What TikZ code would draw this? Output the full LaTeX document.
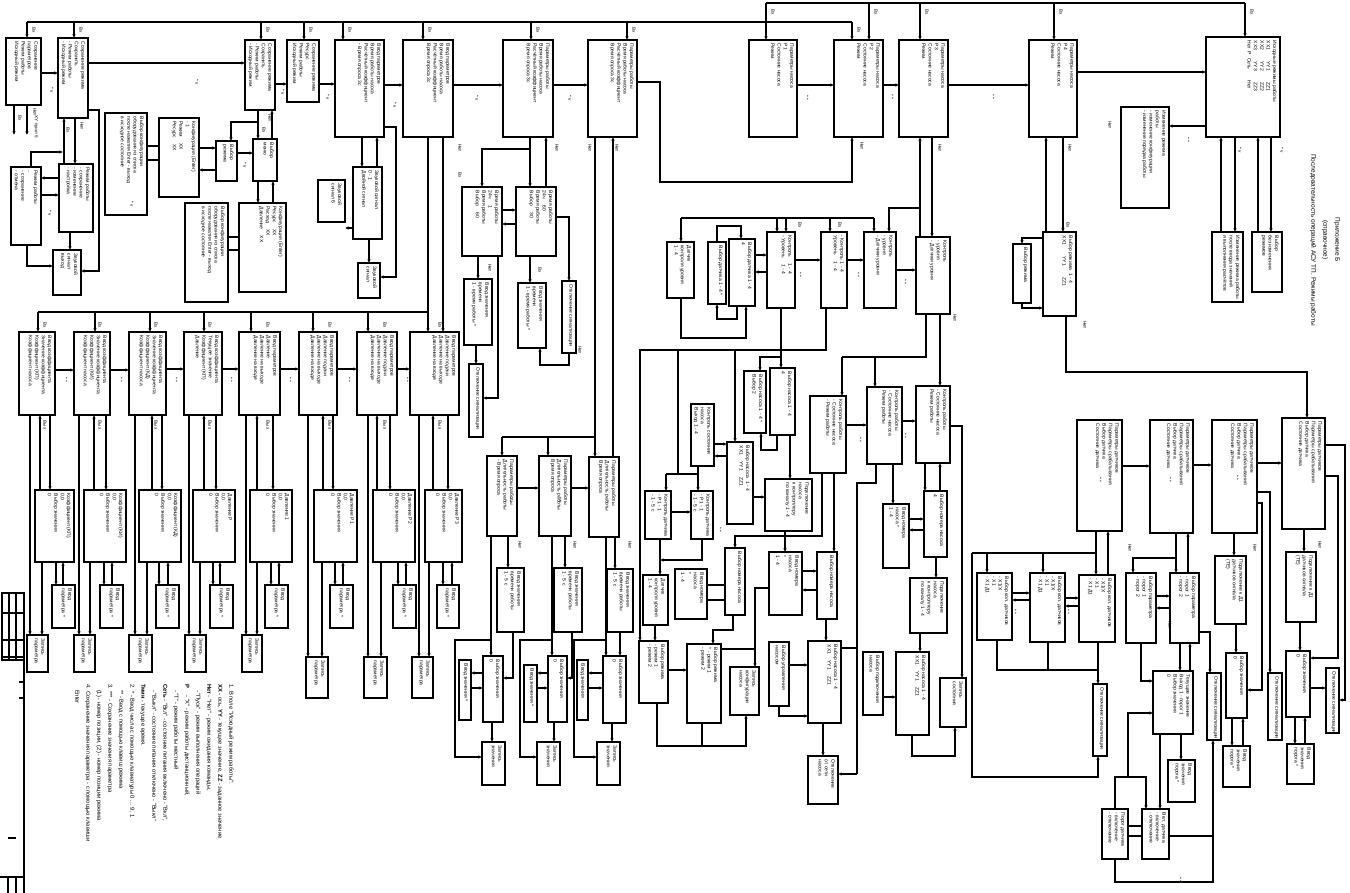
\documentclass[tikz,border=0pt]{standalone}
\usepackage{fontspec}
\setmainfont{Liberation Sans}
\usetikzlibrary{arrows.meta}
\newcounter{lc}
\newcommand\bx[6]{%
  \pgfmathsetmacro\bxcx{(#2+#4)/2}%
  \pgfmathsetmacro\bxcy{(#3+#5)/2}%
  \pgfmathsetmacro\bxw{#4-#2}%
  \pgfmathsetmacro\bxh{#5-#3}%
  \node[box,minimum width=\bxw pt,minimum height=\bxh pt] (#1) at (\bxcx,\bxcy) {};
  \node[btxt] (#1t) at ([xshift=-3pt,yshift=-3.5pt]#1.north east) {#6};
}
\newcommand\cH[3]{\draw[ar] (#1.east |- 0,#3) -- (#2.west |- 0,#3);}
\newcommand\cV[3]{\draw[ar] (#1.south -| #3,0) -- (#2.north -| #3,0);}
\newcommand\cU[3]{\draw[ar] (#2.north -| #3,0) -- (#1.south -| #3,0);}
\newcommand\lb[3]{\stepcounter{lc}\node[lbl] (lab\arabic{lc}) at (#1,#2) {#3};}
\newcommand\colset[8]{%
  \draw[ar] (H#1.south -| #2,0) -- (K#1.north -| #2,0);
  \draw[ar] (I#1.north -| #3,0) -- (H#1.south -| #3,0);
  \draw[ar] (H#1.south -| #4,0) -- (I#1.north -| #4,0);
  \draw[ar] (I#1.south -| #5,0) -- (J#1.north -| #5,0);
  \draw[ar] (J#1.north -| #6,0) -- (I#1.south -| #6,0);
  \draw[ar] (I#1.south -| #7,0) -- (K#1.north -| #7,0);
  \lb{#8}{325}{Вх}\lb{#8}{425}{Вых}
}
\begin{document}
\begin{tikzpicture}[x=1pt,y=-1pt,
  box/.style={draw,line width=1.7pt,inner sep=0pt,outer sep=0pt},
  btxt/.style={rotate=-90,anchor=north west,inner sep=0pt,align=left,font=\fontsize{5}{6.4}\selectfont},
  cn/.style={line width=1.5pt},
  ar/.style={cn,-{Latex[length=3.6pt,width=3.4pt]}},
  lbl/.style={rotate=-90,inner sep=0pt,font=\fontsize{4.6}{5}\selectfont}]
\useasboundingbox (0,0) rectangle (1350,893);
\fill[white] (0,0) rectangle (1350,893);

% ---------------- top-left block
\bx{B1}{6}{38}{41}{105}{Сохранение\\параметров\\Режим работы\\Исходный режим}
\bx{B2}{58}{38}{88}{118}{Сохранение режима\\Сохранить\\- Режим работы\\- Исходный режим}
\bx{B3}{59}{164}{93}{232}{Режим работы\\- сохранение\\- изменение\\- настройка}
\bx{B4}{11}{167}{41}{245}{Режим работы\\- \\- сохранение\\- отмена}
\bx{B5}{53}{250}{81}{295}{Звуковой\\сигнал\\выход}
\bx{B6}{105}{113}{147}{215}{Выбор конфигурации\\оборудования из списка\\после нажатия Enter - выход\\в исходное состояние}
\bx{B7}{159}{118}{199}{197}{Конфигурация (Enter)\\- 1\\Режим \quad XX\\Ресурс \quad XX}
\bx{B8}{216}{141}{237}{181}{Выбор\\режима}
\bx{B9}{253}{139}{277}{181}{Выбор\\меню}
\bx{B10}{245}{40}{275}{110}{Сохранение режима\\Сохранить\\- Режим работы\\- Исходный режим}
\bx{B11}{287}{40}{319}{102}{Сохранение режима\\Ресурс\\Режим работы\\Исходный режим}
\bx{B12}{185}{203}{228}{302}{Выбор конфигурации\\оборудования из списка\\после нажатия Enter - выход\\в исходное состояние}
\bx{B13}{239}{203}{286}{292}{Конфигурация (Enter)\\Ресурс \quad XX\\Расход \quad XX\\Давление \quad XX}
\bx{B14}{318}{180}{345}{222}{Звуковой\\сигнал 6}

\bx{C1}{335}{40}{384}{137}{Ввод параметров\\Время работы насоса\\Расчётный коэффициент\\- Время опроса 3с}
\bx{C2}{403}{40}{453}{137}{Ввод параметров\\Время работы насоса\\Расчётный коэффициент\\Время опроса 3с}
\bx{C3}{503}{40}{553}{137}{Параметры работы\\Время работы насоса\\Расчётный коэффициент\\Время опроса 3с}
\bx{C4}{588}{40}{637}{137}{Параметры работы\\Время работы насоса\\Расчётный коэффициент\\Время опроса 3с}
\bx{C5}{353}{167}{382}{239}{Звуковой сигнал\\0 - 1\\Двойной сигнал}
\bx{C6}{358}{263}{380}{298}{Звуковой\\сигнал}
\bx{C7}{462}{187}{502}{256}{Время работы\\24ч \quad 1\\Время работы\\Выбор \quad 60}
\bx{C8}{516}{187}{556}{256}{Время работы\\24ч \quad 60\\Время работы\\Выбор \quad 30}
\bx{C9}{464}{279}{492}{345}{Ввод значения\\времени\\1 - время работы *}
\bx{C10}{518}{283}{546}{348}{Ввод значения\\времени\\1 - время работы *}
\bx{C11}{562}{281}{576}{353}{Отключение сигнализации}
\bx{C12}{469}{364}{483}{437}{Отключение сигнализации}

% ---------------- top-right block
\bx{E1}{749}{40}{797}{137}{Параметры насоса\\Р1\\Состояние насоса\\Режим}
\bx{E2}{834}{40}{883}{137}{Параметры насоса\\Р2\\Состояние насоса\\Режим}
\bx{E3}{899}{40}{948}{137}{Параметры насоса\\Р3\\Состояние насоса\\Режим}
\bx{E4}{1029}{40}{1077}{137}{Параметры насоса\\Р4\\Состояние насоса\\Режим}
\bx{F1}{667}{242}{694}{298}{Датчик\\контроля уровня\\1 - 4}
\bx{F2}{708}{242}{726}{304}{Выбор датчика 1 - 4 *}
\bx{F3}{729}{239}{755}{306}{Выбор датчика 1 - 4\\4}
\bx{F4}{767}{232}{795}{308}{Контроль \quad 1 - 4\\- Уровень \quad 1 - 4}
\bx{F5}{821}{232}{847}{308}{- Контроль 1 - 4\\Уровень \quad 1 - 4}
\bx{F6}{864}{232}{896}{308}{Контроль\\- уровня\\- Датчики уровня}
\bx{F7}{916}{237}{950}{314}{Контроль\\- уровня\\- Датчики уровня}
\bx{F8}{1013}{244}{1031}{303}{Выбор режима}
\bx{F9}{1043}{232}{1076}{316}{Выбор режима \ 1 - 4\\XX1 \qquad YY1 \qquad ZZ1}
\bx{G1}{1206}{37}{1280}{137}{Исходные режимы работы\\XX1 \qquad YY1 \qquad ZZ1\\XX2 \qquad YY2 \qquad ZZ2\\XX3 \qquad YY3 \qquad ZZ3\\Нет \ Р \ Сеть \qquad Нет}
\bx{G2}{1121}{107}{1169}{208}{Изменение режима\\работы\\- изменение конфигурации\\- изменение порядка работы}
\bx{G3}{1212}{232}{1243}{302}{Изменение режима работы\\после ввода значений\\и выполнения расчётов}
\bx{G4}{1252}{232}{1282}{292}{Выбор\\без изменения\\режимов}

% ---------------- lower-left rows
\bx{H1}{19}{332}{55}{415}{Ввод коэффициента\\Значение коэффициента\\Коэффициент (КП)\\Коэффициент насоса}
\bx{H2}{74}{332}{110}{415}{Ввод коэффициента\\Значение коэффициента\\Коэффициент (КИ)\\Коэффициент насоса}
\bx{H3}{129}{332}{166}{415}{Ввод коэффициента\\Значение коэффициента\\Коэффициент (КД)\\Коэффициент насоса}
\bx{H4}{184}{332}{222}{415}{Ввод коэффициента\\Текущее значение\\Коэффициент (КП)\\Давление}
\bx{H5}{239}{332}{280}{415}{Ввод параметров\\Давление\\Давление на выходе\\Давление на входе}
\bx{H6}{299}{332}{337}{415}{Ввод параметров\\Давление подачи\\Давление на выходе\\Давление на входе}
\bx{H7}{357}{332}{397}{415}{Ввод параметров\\Давление подачи\\Давление на выходе\\Давление на входе}
\bx{H8}{410}{332}{459}{415}{Ввод параметров\\Давление подачи\\Давление на выходе\\Давление на входе}
\bx{I1}{35}{490}{74}{562}{Коэффициент (КП)\\0,0\\Выбор значения\\0}
\bx{I2}{84}{490}{126}{562}{Коэффициент (КИ)\\0,0\\Выбор значения\\0}
\bx{I3}{139}{490}{181}{562}{Коэффициент (КД)\\0,0\\Выбор значения\\0}
\bx{I4}{193}{490}{235}{562}{Давление Р\\0,0\\Выбор значения\\0}
\bx{I5}{250}{490}{292}{562}{Давление 1\\0,0\\Выбор значения\\0}
\bx{I6}{314}{490}{357}{562}{Давление Р1\\0,0\\Выбор значения\\0}
\bx{I7}{373}{490}{415}{562}{Давление Р2\\0,0\\Выбор значения\\0}
\bx{I8}{425}{490}{462}{562}{Давление Р3\\0,0\\Выбор значения\\0}
\bx{J1}{52}{585}{75}{628}{Ввод\\параметра *}
\bx{J2}{100}{585}{123}{628}{Ввод\\параметра *}
\bx{J3}{156}{585}{179}{628}{Ввод\\параметра *}
\bx{J4}{210}{585}{233}{628}{Ввод\\параметра *}
\bx{J5}{265}{585}{288}{628}{Ввод\\параметра *}
\bx{J6}{330}{585}{353}{628}{Ввод\\параметра *}
\bx{J7}{393}{585}{416}{628}{Ввод\\параметра *}
\bx{J8}{437}{585}{459}{628}{Ввод\\параметра *}
\bx{K1}{27}{635}{48}{672}{Запись\\параметра}
\bx{K2}{74}{635}{95}{672}{Запись\\параметра}
\bx{K3}{129}{635}{152}{672}{Запись\\параметра}
\bx{K4}{185}{635}{206}{672}{Запись\\параметра}
\bx{K5}{242}{635}{262}{672}{Запись\\параметра}
\bx{K6}{306}{657}{328}{698}{Запись\\параметра}
\bx{K7}{364}{657}{387}{698}{Запись\\параметра}
\bx{K8}{412}{657}{433}{698}{Запись\\параметра}

% ---------------- middle lower
\bx{M1}{487}{456}{517}{536}{Параметры работы\\Длительность работы\\- Время опроса}
\bx{M2}{539}{456}{571}{536}{Параметры работы\\Длительность работы\\Время опроса}
\bx{M3}{589}{457}{619}{537}{Параметры работы\\Длительность работы\\Время опроса}
\bx{N1}{497}{568}{524}{632}{Ввод значения\\времени работы\\1 - 5 с}
\bx{N2}{554}{568}{582}{632}{Ввод значения\\времени работы\\1 - 5 с}
\bx{N3}{607}{569}{633}{632}{Ввод значения\\времени работы\\1 - 5 с}
\bx{O1}{459}{660}{471}{720}{Ввод значения *}
\bx{O2}{483}{656}{503}{722}{Выбор значения\\0}
\bx{O3}{524}{665}{537}{722}{Ввод значения *}
\bx{O4}{548}{656}{567}{722}{Выбор значения\\0}
\bx{O5}{577}{660}{588}{720}{Ввод значения}
\bx{O6}{603}{656}{626}{723}{Выбор значения\\0}
\bx{P1}{482}{742}{505}{785}{Запись\\значения}
\bx{P2}{537}{742}{560}{785}{Запись\\значения}
\bx{P3}{597}{742}{620}{785}{Запись\\значения}

\bx{Q1}{645}{491}{671}{539}{Контроль датчика\\- Р1 - 1\\- 1 - 5 с}
\bx{Q2}{691}{491}{713}{539}{Контроль датчика\\- Р1 - 1\\- 1 - 5 с}
\bx{Q3}{691}{404}{714}{466}{Контроль состояния\\насоса\\Выход 1 - 4}
\bx{Q4}{727}{442}{753}{524}{Выбор насоса \ 1 - 4\\XX1 \quad YY1 \quad ZZ1}
\bx{Q5}{744}{371}{766}{433}{Выбор насоса 1 - 4 *\\Выбор 2}
\bx{Q6}{770}{368}{795}{435}{Выбор насоса 1 - 4\\4}
\bx{Q7}{765}{479}{812}{531}{Подключение\\насоса\\к контроллеру\\по каналу 1 - 4}
\bx{Q8}{810}{396}{846}{473}{Контроль работы\\- Состояние насоса\\- Режим работы}
\bx{Q9}{867}{387}{902}{464}{Контроль работы\\- Состояние насоса\\Режим работы}
\bx{Q10}{916}{386}{950}{463}{Контроль работы\\- Состояние насоса\\Режим работы}
\bx{R1}{643}{575}{668}{625}{Датчик\\контроля уровня\\1 - 4}
\bx{R2}{675}{569}{707}{619}{Ввод номера\\насоса\\*\\1 - 4}
\bx{R3}{725}{548}{745}{615}{Выбор номера насоса}
\bx{R4}{769}{552}{802}{615}{Ввод номера\\насоса\\*\\1 - 4}
\bx{R5}{817}{552}{837}{619}{Выбор номера насоса}
\bx{R6}{883}{504}{909}{568}{Ввод номера\\насоса *\\1 - 4}
\bx{R7}{924}{491}{947}{557}{Выбор номера насоса\\4}
\bx{R8}{910}{578}{947}{633}{Подключение\\насоса\\к контроллеру\\по каналу 1 - 4}
\bx{S1}{639}{641}{668}{703}{Выбор режима\\- режим 1\\- режим 2}
\bx{S2}{687}{644}{721}{723}{Выбор режима\\* - режим 1\\- режим 2}
\bx{S3}{730}{667}{759}{715}{Запись\\конфигурации\\насоса}
\bx{S4}{769}{642}{789}{706}{Выбор управления\\насосом}
\bx{S5}{808}{641}{841}{723}{Выбор насоса 1 - 4\\XX1 \quad YY1 \quad ZZ1}
\bx{S6}{808}{756}{838}{804}{Отключение\\от сети\\насоса}
\bx{S7}{863}{652}{883}{715}{Выбор подключения\\насоса}
\bx{S8}{896}{652}{929}{735}{Выбор насоса 1 - 4\\XX1 \quad YY1 \quad ZZ1}
\bx{S9}{940}{678}{966}{727}{Запись\\состояния}

% ---------------- right lower
\bx{T1}{1077}{420}{1122}{531}{Параметры датчиков\\Параметры срабатывания\\Выбор датчика\\Состояние датчика}
\bx{T2}{1150}{420}{1193}{533}{Параметры датчиков\\Параметры срабатывания\\Выбор датчика\\Состояние датчика}
\bx{T3}{1212}{420}{1257}{533}{Параметры датчиков\\Параметры срабатывания\\Выбор датчика\\Состояние датчика}
\bx{T4}{1282}{418}{1325}{529}{Параметры датчиков\\Параметры срабатывания\\Выбор датчика\\Состояние датчика}
\bx{U1}{977}{573}{1012}{640}{Выбор кол. датчиков\\- Х1/Х\\- Х1\\- Х1 Д1}
\bx{U2}{1030}{573}{1065}{642}{Выбор кол. датчиков\\- Х1/Х\\- Х1\\- Х1 Д1}
\bx{U3}{1079}{575}{1115}{642}{Выбор кол. датчиков\\- Х1/Х\\- Х1\\- Х1 Д1}
\bx{U4}{1126}{573}{1156}{643}{Выбор параметра\\- порог 1\\- порог 2}
\bx{U5}{1170}{573}{1199}{643}{Выбор параметра\\- порог 1\\- порог 2}
\bx{U6}{1215}{556}{1246}{624}{Подключение к Д1\\датчиков сигнала\\(ТЕ)}
\bx{U7}{1286}{552}{1316}{622}{Подключение к Д1\\датчиков сигнала\\(ТЕ)}
\bx{V1}{1093}{684}{1107}{756}{Отключение сигнализации}
\bx{V2}{1153}{671}{1193}{734}{Текущее значение\\Выход 1 - порог 1\\Выбор значения\\0}
\bx{V3}{1207}{673}{1221}{740}{Отключение сигнализации}
\bx{V4}{1226}{653}{1247}{718}{Выбор значения\\0}
\bx{V5}{1268}{673}{1282}{740}{Отключение сигнализации}
\bx{V6}{1286}{651}{1310}{717}{Выбор значения\\0}
\bx{V7}{1326}{668}{1339}{733}{Отключение сигнализации}
\bx{W1}{1168}{760}{1195}{802}{Ввод\\значения\\порога *}
\bx{W2}{1223}{746}{1250}{787}{Ввод\\значения\\порога *}
\bx{W3}{1287}{744}{1314}{784}{Ввод\\значения\\порога *}
\bx{X1}{1102}{809}{1128}{859}{Порог датчика\\- включение\\- отключение}
\bx{X2}{1142}{809}{1169}{859}{Вкл. датчика\\- включение\\- отключение}

% ================= connectors
% top buses
\draw[cn] (27,22) -- (852,22);
\foreach \xx/\nn in {27/B1,74/B2,261/B10,304/B11,343/C1,423/C2,531/C3,627/C4,852/E2}
  {\draw[ar] (\xx,22) -- (\nn.north -| \xx,0);}
\draw[cn] (766,3) -- (1245,3);
\foreach \xx/\nn in {766/E1,869/E2,920/E3,1054/E4,1245/G1}
  {\draw[ar] (\xx,3) -- (\nn.north -| \xx,0);}
% top row horizontals
\cH{B1}{B2}{73}
\draw[ar] (B2.east |- 0,63) -- (B10.west |- 0,63);
\cH{B10}{B11}{84}\cH{B11}{C1}{84}\cH{C1}{C2}{85}\cH{C2}{C3}{85}\cH{C3}{C4}{85}
\cH{E1}{E2}{85}\cH{E2}{E3}{85}\cH{E3}{E4}{85}\cH{E4}{G1}{72}
\draw[ar] (G1.west |- 0,126) -- (G2.east |- 0,126);
\draw[ar] (C4.east |- 0,82) -- (660,82) -- (660,182) -- (852,182) -- (E2.south -| 852,0);
\cU{G1}{G3}{1221}\cV{G1}{G3}{1235}\cU{G1}{G4}{1258}\cV{G1}{G4}{1271}
% top-left
\draw[ar] (B1.south -| 14,0) -- (14,135);
\draw[ar] (B1.south -| 27,0) -- (27,135);
\cU{B2}{B3}{64}\cV{B2}{B3}{75}
\draw[ar] (B2.east |- 0,110) -- (99,110) -- (99,271) -- (B5.east |- 0,271);
\draw[ar] (B4.north -| 31,0) |- (63,152);
\draw[ar] (B3.west |- 0,178) -- (B4.east |- 0,178);
\draw[ar] (B4.east |- 0,195) -- (B3.west |- 0,195);
\draw[ar] (B4.south -| 27,0) |- (B5.west |- 0,266);
\cV{B3}{B5}{70}
\draw[cn] (B6.east |- 0,146) -- (B7.west |- 0,146);
\draw[cn] (B6.east |- 0,160) -- (B7.west |- 0,160);
\draw[ar] (B7.east |- 0,148) -- (B8.west |- 0,148);
\draw[ar] (B8.west |- 0,170) -- (B7.east |- 0,170);
\cH{B8}{B9}{153}
\draw[ar] (258,122) -| (B8.north -| 231,0);
\cV{B10}{B9}{258}\cU{B10}{B9}{272}
\cV{B9}{B13}{258}\cU{B9}{B13}{273}
\draw[cn] (B12.east |- 0,237) -- (B13.west |- 0,237);
\draw[cn] (B12.east |- 0,250) -- (B13.west |- 0,250);
\cV{C1}{C5}{362}\cU{C1}{C5}{377}
\draw[ar] (C1.east |- 0,127) -- (396,127) -- (396,277) -- (C6.east |- 0,277);
\draw[ar] (C5.west |- 0,228) -- (B14.east |- 0,228);
\cV{C5}{C6}{369}
\draw[ar] (C2.south -| 428,0) -- (H8.north -| 428,0);
\cV{C2}{H8}{443}
\draw[cn] (38,312) -- (428,312);
\foreach \xx/\nn in {38/H1,95/H2,150/H3,204/H4,251/H5,313/H6,368/H7}
  {\draw[ar] (\xx,312) -- (\nn.north -| \xx,0);}
\cV{C3}{C8}{530}\cU{C3}{C8}{546}
\draw[ar] (530,149) -| (C7.north -| 482,0);
\draw[ar] (C7.east |- 0,210) -- (C8.west |- 0,210);
\draw[ar] (C8.west |- 0,224) -- (C7.east |- 0,224);
\draw[ar] (C8.east |- 0,217) -| (C11.north -| 569,0);
\draw[ar] (C11.south -| 569,0) -- (569,365) -| (C10.south -| 540,0);
\cV{C8}{C10}{530}
\cV{C7}{C9}{478}
\draw[ar] (C7.south -| 498,0) -- (498,398) -- (C12.east |- 0,398);
\cV{C9}{C12}{476}
\draw[ar] (C4.south -| 595,0) -- (M3.north -| 595,0);
\cU{C4}{M3}{613}
\draw[cn] (502,437) -- (595,437);
\draw[ar] (502,437) -- (M1.north -| 502,0);
\draw[ar] (548,437) -- (M2.north -| 548,0);
% lower-left columns
\colset{1}{30}{40}{50}{56}{63}{42}{45}
\colset{2}{79}{94}{106}{104}{112}{90}{100}
\colset{3}{135}{152}{162}{159}{168}{147}{156}
\colset{4}{189}{204}{216}{213}{220}{200}{210}
\colset{5}{246}{257}{273}{271}{279}{257}{268}
\colset{6}{308}{323}{333}{335}{343}{322}{330}
\colset{7}{368}{377}{390}{398}{406}{381}{385}
\colset{8}{419}{433}{448}{443}{452}{429}{440}
\cH{H1}{H2}{370}\cH{H2}{H3}{370}\cH{H3}{H4}{369}\cH{H4}{H5}{369}
\cH{H5}{H6}{369}\cH{H6}{H7}{369}\cH{H7}{H8}{369}
% M/N/O/P columns
\cH{M1}{M2}{488}\cH{M2}{M3}{488}
\cV{M1}{O2}{491}\cV{M1}{N1}{508}
\draw[ar] (N1.south -| 513,0) |- (O2.east |- 0,678);
\draw[ar] (O2.west |- 0,673) -- (O1.east |- 0,673);
\draw[ar] (O1.east |- 0,688) -- (O2.west |- 0,688);
\cV{O2}{P1}{492}
\draw[ar] (491,640) -| (455,757) -- (P1.west |- 0,757);
\cV{M2}{O4}{552}\cV{M2}{N2}{565}
\draw[ar] (N2.south -| 572,0) |- (O4.east |- 0,678);
\draw[ar] (O4.west |- 0,673) -- (O3.east |- 0,673);
\draw[ar] (O3.east |- 0,688) -- (O4.west |- 0,688);
\cV{O4}{P2}{554}
\draw[ar] (552,640) -| (520,757) -- (P2.west |- 0,757);
\cV{M3}{O6}{606}\cV{M3}{N3}{615}\cV{N3}{O6}{620}
\draw[ar] (O6.west |- 0,673) -- (O5.east |- 0,673);
\draw[ar] (O5.east |- 0,688) -- (O6.west |- 0,688);
\cV{O6}{P3}{612}
\draw[ar] (606,640) -| (574,757) -- (P3.west |- 0,757);
% E / F cluster
\cU{E3}{F7}{920}\cV{E3}{F7}{932}
\draw[ar] (920,208) -| (F6.north -| 889,0);
\cU{E4}{F9}{1046}\cV{E4}{F9}{1063}
\draw[ar] (F9.west |- 0,238) -| (F8.north -| 1022,0);
\draw[ar] (F8.south -| 1022,0) |- (F9.west |- 0,308);
\draw[ar] (F9.south -| 1066,0) |- (1307,372) -- (T4.north -| 1307,0);
\cH{F6}{F7}{270}\cH{F5}{F6}{260}\cH{F4}{F5}{260}
\draw[ar] (F3.east |- 0,255) -- (F4.west |- 0,255);
\draw[ar] (F4.west |- 0,272) -- (F3.east |- 0,272);
\draw[ar] (F2.north -| 717,0) |- (741,226) -- (F3.north -| 741,0);
\draw[ar] (F3.south -| 737,0) |- (717,319) -- (F2.south -| 717,0);
\draw[cn] (681,218) -- (874,218);
\draw[ar] (681,218) -- (F1.north -| 681,0);
\foreach \xx/\nn in {777/F4,786/F4,830/F5,874/F6}
  {\draw[ar] (\xx,218) -- (\nn.north -| \xx,0);}
\draw[ar] (F1.south -| 681,0) |- (746,338) -- (F3.south -| 746,0);
\draw[ar] (F5.south -| 826,0) |- (640,350) -- (S1.north -| 640,0);
\draw[cn] (678,350) -- (678,474);
\draw[cn] (666,474) -- (698,474);
\draw[ar] (666,474) -- (Q1.north -| 666,0);
\draw[ar] (698,474) -- (Q2.north -| 698,0);
\draw[cn] (Q3.south -| 698,0) -- (698,474);
\draw[ar] (735,350) -- (Q4.north -| 735,0);
\draw[cn] (F7.south -| 926,0) |- (842,357);
\draw[ar] (842,357) -- (Q8.north -| 842,0);
\draw[ar] (875,357) -- (Q9.north -| 875,0);
\cV{F7}{Q10}{940}
\draw[ar] (F4.south -| 781,0) |- (760,357) -- (Q5.north -| 760,0);
\draw[ar] (781,357) -- (Q6.north -| 781,0);
\draw[ar] (Q6.south -| 777,0) |- (761,450) -- (Q5.south -| 761,0);
\cV{Q6}{Q7}{790}
\draw[ar] (Q3.east |- 0,444) -- (Q4.west |- 0,444);
\draw[ar] (Q4.west |- 0,456) -- (Q3.east |- 0,456);
\draw[ar] (Q4.east |- 0,497) -- (Q7.west |- 0,497);
\cH{Q1}{Q2}{512}
\cV{Q1}{R1}{660}
\draw[ar] (Q2.south -| 702,0) |- (660,560);
\cV{R1}{S1}{655}
\cH{Q8}{Q9}{425}\cH{Q9}{Q10}{421}
\draw[ar] (Q8.south -| 822,0) |- (735,536) -- (R3.north -| 735,0);
\draw[ar] (Q8.south -| 834,0) -- (R5.north -| 834,0);
\draw[cn] (Q9.south -| 876,0) |- (857,483) -- (857,774);
\draw[ar] (857,774) -- (S6.east |- 0,774);
\draw[ar] (Q9.south -| 893,0) -- (R6.north -| 893,0);
\cV{Q10}{R7}{925}\cU{Q10}{R7}{940}
\draw[ar] (R6.east |- 0,519) -- (R7.west |- 0,519);
\draw[ar] (R7.west |- 0,530) -- (R6.east |- 0,530);
\cV{R7}{R8}{936}\cV{R8}{S8}{920}
\draw[ar] (Q10.east |- 0,426) -| (S9.north -| 962,0);
\draw[ar] (S7.east |- 0,697) -- (S8.west |- 0,697);
\draw[ar] (S8.south -| 912,0) |- (955,756) -- (S9.south -| 955,0);
\draw[ar] (Q7.south -| 785,0) -- (R4.north -| 785,0);
\draw[ar] (R4.east |- 0,571) -- (R5.west |- 0,571);
\draw[ar] (R5.west |- 0,590) -- (R4.east |- 0,590);
\cV{R5}{S5}{826}\cV{S5}{S6}{823}
\draw[cn] (S5.east |- 0,648) -- (857,648);
\draw[ar] (S4.east |- 0,665) -- (S5.west |- 0,665);
\draw[ar] (S4.south -| 779,0) |- (S5.west |- 0,716);
\draw[ar] (R3.south -| 733,0) |- (713,630) -- (S2.north -| 713,0);
\draw[cn] (R4.west |- 0,588) -- (755,588) -- (755,649);
\draw[ar] (S2.east |- 0,649) -- (755,649) -- (S3.north -| 755,0);
\cH{S1}{S2}{670}
\draw[ar] (S1.south -| 657,0) |- (746,746) -- (S3.south -| 746,0);
\draw[cn] (S2.south -| 702,0) -- (702,746);
\draw[cn] (R2.east |- 0,585) -- (R3.west |- 0,585);
\draw[cn] (R2.east |- 0,600) -- (R3.west |- 0,600);
% T / U / V cluster
\cH{T1}{T2}{466}\cH{T2}{T3}{465}\cH{T3}{T4}{463}
\draw[ar] (T3.east |- 0,492) -| (V5.north -| 1270,0);
\draw[ar] (T3.east |- 0,503) -| (1262,690) -- (V4.east |- 0,690);
\draw[ar] (T4.east |- 0,445) -| (1345,700) -- (V7.east |- 0,700);
\draw[ar] (T4.east |- 0,476) -| (1338,658) -- (V6.east |- 0,658);
\cV{T4}{U7}{1304}\cV{U7}{V6}{1300}
\draw[ar] (V6.east |- 0,688) -- (V7.west |- 0,688);
\cV{V6}{W3}{1295}\cU{V6}{W3}{1305}
\cV{T3}{U6}{1234}\cV{U6}{V4}{1236}
\cV{V4}{W2}{1232}\cU{V4}{W2}{1243}
\cV{T2}{U5}{1176}\cU{T2}{U5}{1188}
\draw[ar] (1176,558) -| (U4.north -| 1133,0);
\draw[ar] (U4.east |- 0,596) -- (U5.west |- 0,596);
\draw[ar] (U5.west |- 0,608) -- (U4.east |- 0,608);
\draw[ar] (U5.east |- 0,632) -| (V3.north -| 1210,0);
\cV{U5}{V2}{1180}\cU{U5}{V2}{1190}
\draw[ar] (U4.south -| 1141,0) |- (V2.west |- 0,681);
\cV{V2}{X2}{1160}\cV{V2}{W1}{1181}
\draw[cn] (X1.east |- 0,826) -- (X2.west |- 0,826);
\draw[cn] (X1.east |- 0,836) -- (X2.west |- 0,836);
\draw[ar] (X2.east |- 0,836) -| (V3.south -| 1213,0);
\draw[cn] (X1.south -| 1115,0) |- (1213,882) -- (1213,836);
\draw[ar] (X1.north -| 1115,0) |- (1146,777) -- (X2.north -| 1146,0);
\draw[ar] (1128,777) -- (1128,713) -- (V2.west |- 0,713);
\cV{T1}{U3}{1096}\cU{T1}{U3}{1108}
\draw[cn] (972,553) -- (1096,553);
\draw[ar] (987,553) -- (U1.north -| 987,0);
\draw[ar] (1043,553) -- (U2.north -| 1043,0);
\draw[ar] (972,553) -- (972,777) -| (V1.south -| 1098,0);
\draw[ar] (U1.east |- 0,593) -- (U2.west |- 0,593);
\draw[ar] (U2.west |- 0,600) -- (U1.east |- 0,600);
\draw[ar] (U2.east |- 0,598) -- (U3.west |- 0,598);
\draw[ar] (U3.west |- 0,606) -- (U2.east |- 0,606);
\draw[cn] (U1.south -| 997,0) |- (1098,670);
\draw[cn] (U2.south -| 1048,0) -- (1048,670);
\draw[ar] (U3.south -| 1098,0) -- (V1.north -| 1098,0);

% ================= small labels
\foreach \xx in {27,74,261,304,343,423,531,627,852}{\lb{\xx+7}{30}{Вх}}
\foreach \xx in {766,869,920,1054,1245}{\lb{\xx+7}{12}{Вх}}
\lb{35}{112}{Нет}\lb{20}{118}{Вх}\lb{36}{127}{XY пункт 5}
\lb{82}{126}{Нет}\lb{68}{130}{Вх}\lb{270}{118}{Нет}\lb{264}{130}{Вх}
\lb{590}{148}{Нет}\lb{617}{148}{Нет}\lb{557}{148}{Нет}\lb{460}{148}{Нет}
\lb{862}{146}{Нет}\lb{940}{148}{Нет}\lb{1070}{148}{Нет}\lb{1068}{225}{Вх}
\lb{840}{225}{Вх}\lb{800}{225}{Вх}\lb{955}{318}{Нет}\lb{1085}{325}{Нет}
\lb{580}{350}{Нет}\lb{540}{270}{Вх}\lb{490}{268}{Нет}\lb{460}{175}{Вх}
\lb{52}{90}{* v}\lb{197}{82}{* v}\lb{50}{213}{* v}\lb{132}{204}{* v}
\lb{245}{165}{* v}\lb{283}{92}{* v}\lb{328}{97}{* v}\lb{395}{105}{* v}
\lb{477}{98}{* v}\lb{570}{98}{* v}\lb{807}{98}{* *}\lb{892}{97}{* *}
\lb{993}{97}{* *}\lb{1188}{140}{* *}\lb{1240}{150}{* v}\lb{1282}{150}{* v}
\foreach \xx in {66,121,176,231,290,349,407}{\lb{\xx}{380}{* *}}
\lb{510}{500}{* *}\lb{560}{500}{* *}\lb{520}{545}{Нет}\lb{575}{545}{Нет}\lb{630}{545}{Нет}
\lb{800}{275}{* *}\lb{858}{275}{* *}\lb{905}{282}{* *}\lb{1110}{125}{Нет}
\lb{1100}{480}{* *}\lb{1170}{480}{* *}\lb{1237}{478}{* *}
\lb{1015}{612}{* *}\lb{1068}{612}{* *}\lb{1130}{548}{Нет}\lb{1255}{548}{Нет}
\lb{1320}{545}{Нет}\lb{720}{530}{* *}\lb{860}{440}{* *}\lb{905}{436}{* *}
\lb{1180}{880}{* *}\lb{1170}{625}{Нет}

% ================= title, legend, frame
\node[rotate=-90,anchor=north,align=center,inner sep=0pt,font=\fontsize{6.5}{12}\selectfont] (title) at (1340,240)
  {Приложение Б\\(справочное)\\Последовательность операций АСУ ТП. Режимы работы};
\node[rotate=-90,anchor=north west,align=left,inner sep=0pt,font=\fontsize{5.8}{11}\selectfont] (legend) at (234,684)
  {1. В поле "Исходный режим работы":\\
   \textbf{XX} - ось, \textbf{YY} - текущее значение, \textbf{ZZ} - заданное значение\\
   \textbf{Нет} - "Нет" - режим ожидания команды,\\
   \quad - "Пуск" - режим выполнения операций\\
   \textbf{Р} \quad - "Х" - режим работы дистанционный,\\
   \quad - "Т" - режим работы местный\\
   \textbf{Сеть} - "Вкл" - состояние питания включено - "Вкл",\\
   \quad - "Выкл" - состояние питания отключено - "Выкл"\\
   \textbf{Тмин} - текущее время.\\
   2. * - Ввод числа с помощью клавиатуры 0 ... 9, 1\\
   \quad ** - Ввод с помощью клавиш режима\\
   3. *** - Сохранение значения параметра\\
   \quad (1) - номер позиции, (2) - номер позиции режима\\
   4. Сохранение значения параметра - с помощью клавиши\\
   \quad Enter};
\draw[line width=1.5pt] (24,593) -- (24,893);
\draw[line width=1.2pt] (2,593) rectangle (24,660);
\draw[line width=1.2pt] (9,593) -- (9,660) (16,593) -- (16,660);
\draw[line width=1.2pt] (2,613) -- (24,613) (2,640) -- (24,640) (2,657) -- (24,657);
\draw[line width=1.2pt] (19,682) -- (24,682) (19,698) -- (24,698) (8,838) -- (16,838);
\draw[line width=1.2pt] (0,877) -- (24,877) (8,877) -- (8,893) (16,877) -- (16,893);
\end{tikzpicture}
\end{document}
